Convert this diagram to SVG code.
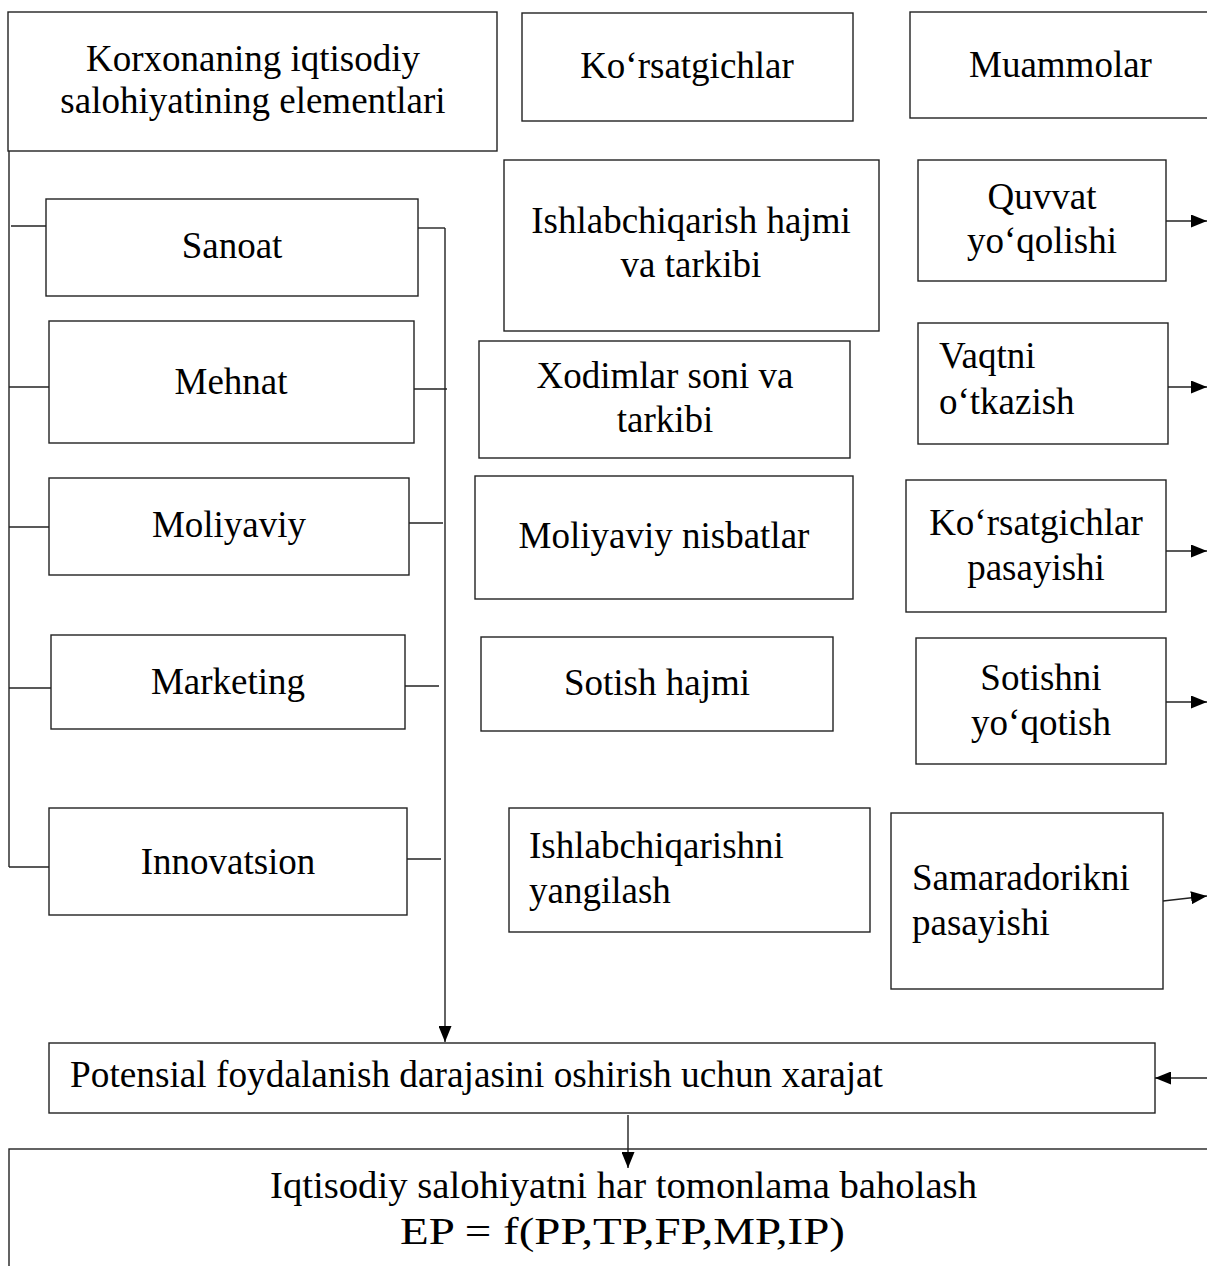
<svg xmlns="http://www.w3.org/2000/svg" width="1207" height="1266" viewBox="0 0 1207 1266">
<style>
.box{fill:#fff;stroke:#222;stroke-width:1.4}
.ln{fill:none;stroke:#222;stroke-width:1.4}
text{font-family:"Liberation Serif","Times New Roman",serif;font-size:37px;fill:#000}
.c{text-anchor:middle}
</style>
<defs>
<marker id="ah" markerUnits="userSpaceOnUse" markerWidth="16" markerHeight="13" refX="16" refY="6.5" orient="auto">
<path d="M0,0 L16,6.5 L0,13 z" fill="#000"/>
</marker>
</defs>
<rect width="1207" height="1266" fill="#fff"/>

<g id="n-elements">
<rect class="box" x="8" y="12" width="489" height="139"/>
<text class="c" x="253" y="71">Korxonaning iqtisodiy</text>
<text class="c" x="253" y="113">salohiyatining elementlari</text>
</g>
<g id="n-korsatgichlar">
<rect class="box" x="522" y="13" width="331" height="108"/>
<text class="c" x="687" y="78">Ko‘rsatgichlar</text>
</g>
<g id="n-muammolar">
<rect class="box" x="910" y="12" width="320" height="106"/>
<text x="969" y="77">Muammolar</text>
</g>

<g id="n-sanoat">
<rect class="box" x="46" y="199" width="372" height="97"/>
<text class="c" x="232" y="258">Sanoat</text>
</g>
<g id="n-mehnat">
<rect class="box" x="49" y="321" width="365" height="122"/>
<text class="c" x="231" y="394">Mehnat</text>
</g>
<g id="n-moliyaviy">
<rect class="box" x="49" y="478" width="360" height="97"/>
<text class="c" x="229" y="537">Moliyaviy</text>
</g>
<g id="n-marketing">
<rect class="box" x="51" y="635" width="354" height="94"/>
<text class="c" x="228" y="694">Marketing</text>
</g>
<g id="n-innovatsion">
<rect class="box" x="49" y="808" width="358" height="107"/>
<text class="c" x="228" y="874">Innovatsion</text>
</g>

<g id="n-ishlab-hajmi">
<rect class="box" x="504" y="160" width="375" height="171"/>
<text class="c" x="691" y="233">Ishlabchiqarish hajmi</text>
<text class="c" x="691" y="277">va tarkibi</text>
</g>
<g id="n-xodimlar">
<rect class="box" x="479" y="341" width="371" height="117"/>
<text class="c" x="665" y="388">Xodimlar soni va</text>
<text class="c" x="665" y="432">tarkibi</text>
</g>
<g id="n-nisbatlar">
<rect class="box" x="475" y="476" width="378" height="123"/>
<text class="c" x="664" y="548">Moliyaviy nisbatlar</text>
</g>
<g id="n-sotish-hajmi">
<rect class="box" x="481" y="637" width="352" height="94"/>
<text class="c" x="657" y="695">Sotish hajmi</text>
</g>
<g id="n-yangilash">
<rect class="box" x="509" y="808" width="361" height="124"/>
<text x="529" y="858">Ishlabchiqarishni</text>
<text x="529" y="903">yangilash</text>
</g>

<g id="n-quvvat">
<rect class="box" x="918" y="160" width="248" height="121"/>
<text class="c" x="1042" y="209">Quvvat</text>
<text class="c" x="1042" y="253">yo‘qolishi</text>
</g>
<g id="n-vaqtni">
<rect class="box" x="918" y="323" width="250" height="121"/>
<text x="939" y="368">Vaqtni</text>
<text x="939" y="414">o‘tkazish</text>
</g>
<g id="n-pasayishi">
<rect class="box" x="906" y="480" width="260" height="132"/>
<text class="c" x="1036" y="535">Ko‘rsatgichlar</text>
<text class="c" x="1036" y="580">pasayishi</text>
</g>
<g id="n-sotishni">
<rect class="box" x="916" y="638" width="250" height="126"/>
<text class="c" x="1041" y="690">Sotishni</text>
<text class="c" x="1041" y="735">yo‘qotish</text>
</g>
<g id="n-samaradorik">
<rect class="box" x="891" y="813" width="272" height="176"/>
<text x="912" y="890">Samaradorikni</text>
<text x="912" y="935">pasayishi</text>
</g>

<g id="n-potensial">
<rect class="box" x="49" y="1043" width="1106" height="70"/>
<text x="70" y="1087" textLength="813" lengthAdjust="spacingAndGlyphs">Potensial foydalanish darajasini oshirish uchun xarajat</text>
</g>
<g id="n-baholash">
<rect class="box" x="9" y="1149" width="1220" height="160"/>
<text x="270" y="1198" textLength="707" lengthAdjust="spacingAndGlyphs">Iqtisodiy salohiyatni har tomonlama baholash</text>
<text x="400" y="1244" textLength="445" lengthAdjust="spacingAndGlyphs">EP = f(PP,TP,FP,MP,IP)</text>
</g>

<g id="connectors">
<line class="ln" x1="9" y1="151" x2="9" y2="867"/>
<line class="ln" x1="11" y1="226" x2="46" y2="226"/>
<line class="ln" x1="9" y1="387" x2="49" y2="387"/>
<line class="ln" x1="9" y1="527" x2="49" y2="527"/>
<line class="ln" x1="9" y1="688" x2="51" y2="688"/>
<line class="ln" x1="9" y1="867" x2="49" y2="867"/>
<line class="ln" x1="418" y1="228" x2="445" y2="228"/>
<line class="ln" x1="414" y1="389" x2="447" y2="389"/>
<line class="ln" x1="409" y1="523" x2="443" y2="523"/>
<line class="ln" x1="405" y1="686" x2="439" y2="686"/>
<line class="ln" x1="407" y1="859" x2="441" y2="859"/>
<line class="ln" x1="445" y1="228" x2="445" y2="1042" marker-end="url(#ah)"/>
<line class="ln" x1="628" y1="1115" x2="628" y2="1168" marker-end="url(#ah)"/>
<line class="ln" x1="1166" y1="221" x2="1207" y2="221" marker-end="url(#ah)"/>
<line class="ln" x1="1168" y1="387" x2="1207" y2="387" marker-end="url(#ah)"/>
<line class="ln" x1="1166" y1="551" x2="1207" y2="551" marker-end="url(#ah)"/>
<line class="ln" x1="1166" y1="702" x2="1207" y2="702" marker-end="url(#ah)"/>
<line class="ln" x1="1163" y1="901" x2="1207" y2="896" marker-end="url(#ah)"/>
<line class="ln" x1="1207" y1="1078" x2="1155" y2="1078" marker-end="url(#ah)"/>
</g>
</svg>
